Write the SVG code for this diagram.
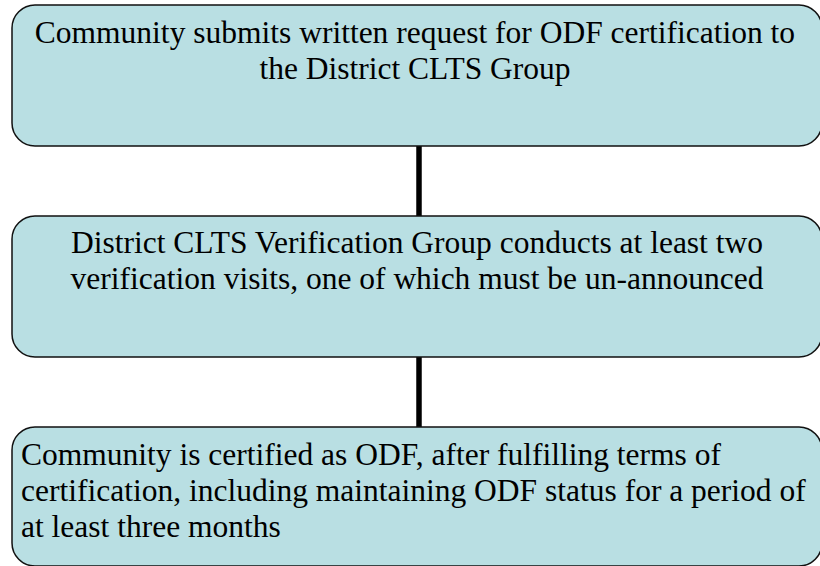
<svg xmlns="http://www.w3.org/2000/svg" width="820" height="566" viewBox="0 0 820 566">
<style>
.box{fill:#B9DFE3;stroke:#111;stroke-width:1.5}
.t{font-family:"Liberation Serif","Times New Roman",serif;font-size:31.5px;fill:#000}
.c{text-anchor:middle}
.conn{stroke:#000;stroke-width:5.5;fill:none}
</style>
<rect width="820" height="566" fill="#fff"/>
<g id="connectors">
<line class="conn" x1="419" y1="146" x2="419" y2="216"/>
<line class="conn" x1="419" y1="356" x2="419" y2="427"/>
</g>
<g id="node1">
<rect class="box" x="12" y="5" width="810" height="141" rx="23" ry="23"/>
<text class="t c" x="415" y="43">Community submits written request for ODF certification to</text>
<text class="t c" x="415" y="79">the District CLTS Group</text>
</g>
<g id="node2">
<rect class="box" x="12" y="216" width="810" height="141" rx="23" ry="23"/>
<text class="t c" x="417" y="253">District CLTS Verification Group conducts at least two</text>
<text class="t c" x="417" y="289">verification visits, one of which must be un-announced</text>
</g>
<g id="node3">
<rect class="box" x="12" y="427" width="810" height="139" rx="23" ry="23"/>
<text class="t" x="21" y="465">Community is certified as ODF, after fulfilling terms of</text>
<text class="t" x="21" y="501">certification, including maintaining ODF status for a period of</text>
<text class="t" x="21" y="537">at least three months</text>
</g>
</svg>
